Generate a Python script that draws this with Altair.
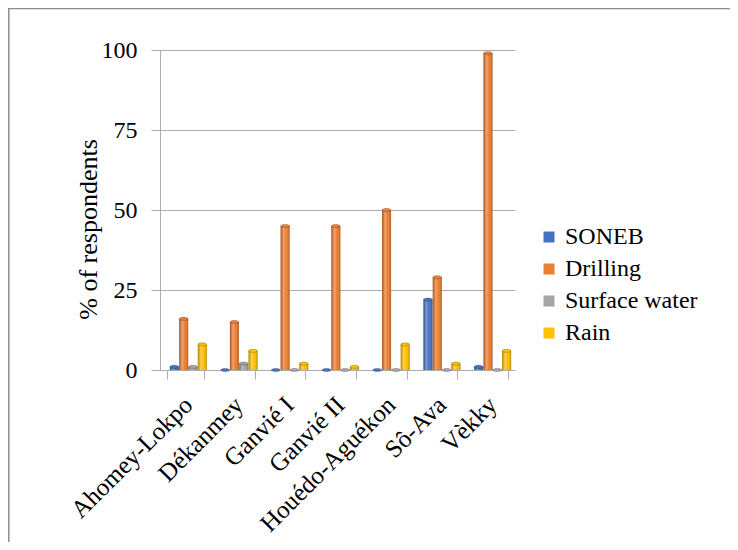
import altair as alt
import pandas as pd

communes = ["Ahomey-Lokpo", "Dékanmey", "Ganvié I", "Ganvié II",
            "Houédo-Aguékon", "Sô-Ava", "Vèkky"]
sources = ["SONEB", "Drilling", "Surface water", "Rain"]
soneb = [1, 0, 0, 0, 0, 22, 1]
drilling = [16, 15, 45, 45, 50, 29, 99]
surface = [1, 2, 0, 0, 0, 0, 0]
rain = [8, 6, 2, 1, 8, 2, 6]
colors = ["#4472C4", "#ED7D31", "#A5A5A5", "#FFC000"]
y_ticks = [0, 25, 50, 75, 100]

rows = []
for s, vals in zip(sources, [soneb, drilling, surface, rain]):
    for c, v in zip(communes, vals):
        rows.append({"Commune": c, "Source": s, "Value": v})
df = pd.DataFrame(rows)

FONT = "Liberation Serif"
GRAY = "#ADADAD"

x = alt.X("Commune:N", sort=communes,
          scale=alt.Scale(paddingInner=0.27, paddingOuter=0.135),
          axis=alt.Axis(title=None, labelAngle=-45, labelAlign="right",
                        labelBaseline="top", labelFontSize=25, labelFont=FONT,
                        labelColor="black", labelPadding=13, labelOffset=-6,
                        tickBand="extent",
                        tickSize=9, tickColor=GRAY, domainColor=GRAY,
                        grid=False, labelOverlap=False))
xoff = alt.XOffset("Source:N", sort=sources,
                   scale=alt.Scale(domain=sources, paddingInner=0.03,
                                   range=[3, 40]))
y = alt.Y("Value:Q", scale=alt.Scale(domain=[0, 100]),
          axis=alt.Axis(values=y_ticks, title="% of respondents",
                        labelFontSize=24, labelFont=FONT, labelColor="black",
                        labelPadding=14, tickSize=9, tickColor=GRAY,
                        domainColor=GRAY, gridColor=GRAY, grid=True,
                        titleFont="Liberation Serif, Times New Roman, serif",
                        titleFontSize=26,
                        titleFontWeight="normal", titleColor="black",
                        titleX=-72, titleY=179, titleAngle=270,
                        titleAlign="center", titleBaseline="middle"))
color = alt.Color("Source:N", scale=alt.Scale(domain=sources, range=colors),
                  legend=alt.Legend(title=None, orient="none", legendX=377,
                                    legendY=175, symbolType="square",
                                    symbolSize=121, symbolStrokeWidth=0,
                                    labelFontSize=24,
                                    labelFont="Liberation Serif, Times New Roman, serif",
                                    labelColor="black", rowPadding=8,
                                    padding=0, labelOffset=4,
                                    labelExpr="datum.value == 'Rain' ? '\u2002Rain' : datum.label"))

base = alt.Chart(df).encode(x=x, xOffset=xoff, y=y)
bars = base.mark_bar().encode(color=color)
shade = base.mark_bar(fill=alt.Gradient(
    gradient="linear", x1=0, x2=1, y1=0, y2=0,
    stops=[alt.GradientStop(offset=0, color="rgba(0,0,0,0.30)"),
           alt.GradientStop(offset=0.35, color="rgba(255,255,255,0.30)"),
           alt.GradientStop(offset=0.6, color="rgba(255,255,255,0.0)"),
           alt.GradientStop(offset=1, color="rgba(0,0,0,0.30)")]))
cap_path = "M-1,0A1,0.35,0,1,0,1,0A1,0.35,0,1,0,-1,0Z"
caps = base.mark_point(shape=cap_path, filled=True, size=81, opacity=1,
                       stroke="rgba(0,0,0,0.35)", strokeWidth=0.6).encode(color=color)

frame_df = pd.DataFrame({"k": [0]})
frame_top = alt.Chart(frame_df).mark_rule(color="#8C8C8C", strokeWidth=1.5).encode(
    x=alt.value(-152), x2=alt.value(580), y=alt.value(-41.5))
frame_left = alt.Chart(frame_df).mark_rule(color="#8C8C8C", strokeWidth=1.5).encode(
    x=alt.value(-151.2), y=alt.value(-42), y2=alt.value(500))

chart = alt.layer(bars, shade, caps, frame_top, frame_left).properties(
    width=355, height=320,
    autosize=alt.AutoSizeParams(type="none"),
    padding={"left": 152, "top": 42, "right": 215, "bottom": 172},
    background="white",
).configure(font=FONT).configure_view(stroke="transparent")

chart.save("out.html", embed_options={"renderer": "svg", "actions": False})
